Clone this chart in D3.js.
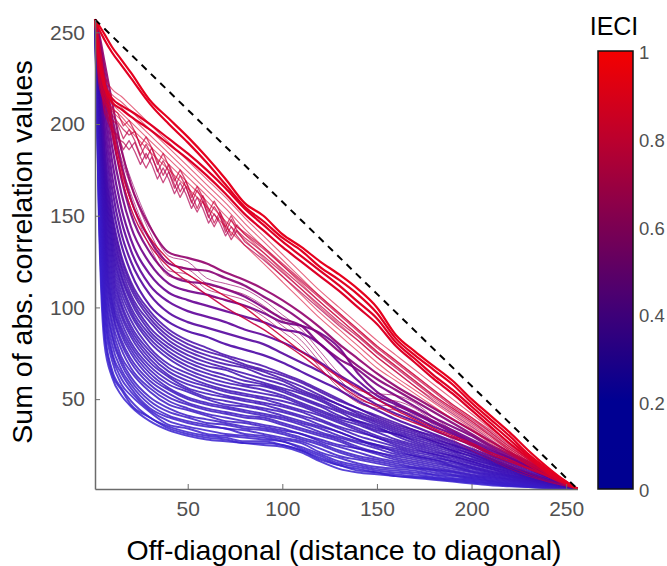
<!DOCTYPE html>
<html>
<head>
<meta charset="utf-8">
<script src="https://cdn.jsdelivr.net/npm/d3@7"></script>
<style>
  body { margin: 0; background: #fff; }
  svg { font-family: "Liberation Sans", Arial, sans-serif; }
</style>
</head>
<body>
<div id="chart"></div>
<script>
// off-diagonal positions (shared grid) and a finer grid for the jagged curves
const offDiag = [1,3,6,10,15,20,30,40,50,60,70,80,90,100,110,120,130,140,150,160,170,180,190,200,210,220,230,240,250,256];
const offDiagFine = [1,3,6,10,13,16,19,22,25,28,31,34,37,40,43,46,49,52,55,58,61,64,67,70,73,76,80,90,100,110,120,130,140,150,160,170,180,190,200,210,220,230,240,250,256];

// low IECI: the blue mass
const blueIeci = [0.05,0.06,0.07,0.08,0.09,0.1,0.11,0.12,0.13,0.14,0.15,0.16,0.17,0.18,0.19,0.2,0.21,0.22,0.23,0.24,0.25,0.26,0.27,0.28,0.29,0.3,0.31,0.32,0.33,0.34,0.35];
const blueSums = [
  [257,150,80,62,52,46,38,33,30,28,27,26,25,24,21,16,12,10,9,8,7,6,5,4,3,2.5,2,1.5,1.2,1],
  [257,156,86,64,55,47,40,34,31,29,28,26,26,25,22,17,14,11,10,8,7.5,6.5,5.5,4.5,3.6,2.8,2.2,1.6,1.2,1],
  [257,160,88,66,56,49,40,35,32,30,29,27,27,25,22,18,14,12,10,9,8,7,6,5,4,3,2.4,1.8,1.3,1],
  [257,166,94,71,58,52,43,36,34,31,30,29,28,27,23,19,15,13,11,10,9,7.5,6.5,5.5,4.3,3.3,2.5,1.9,1.3,1],
  [257,172,98,74,61,54,44,38,35,33,31,30,29,27,24,20,16,14,12,11,10,8.5,7,6,4.8,3.6,2.7,2,1.4,1],
  [257,178,103,76,64,56,45,40,37,35,34,31,30,28,26,21,18,15,13,12,11,9,8,6.5,5.2,3.9,2.9,2.1,1.4,1],
  [257,182,106,80,66,58,47,41,38,36,34,33,31,29,27,23,19,17,15,13,12,10,8.5,7,5.5,4.2,3,2.2,1.5,1],
  [257,186,110,84,69,60,49,43,40,37,36,34,33,31,28,25,21,18,16,14,12.5,11,9,7.5,6,4.6,3.3,2.4,1.5,1],
  [257,190,114,86,71,62,51,45,41,39,37,35,34,32,29,26,22,19,17,15,13,11.5,10,8,6.5,5,3.6,2.5,1.6,1],
  [257,194,119,90,73,65,54,47,44,41,38,37,35,33,31,27,24,21,18,16,14,12,10.5,8.5,7,5.4,3.9,2.7,1.7,1],
  [257,198,122,93,77,67,56,49,45,42,40,38,36,34,31,28,25,23,20,17,15,13,11,9,7.5,5.8,4.2,2.9,1.8,1],
  [257,201,126,97,80,70,58,51,47,44,42,40,39,36,33,30,27,23,21,18,16,14,12,10,8,6.2,4.5,3,1.8,1],
  [257,204,130,99,82,72,60,53,48,45,43,41,40,37,34,31,28,24,21,19,17,15,13,10.5,8.5,6.5,4.8,3.2,1.9,1],
  [257,206,133,102,85,75,62,55,50,47,45,43,41,39,36,32,29,26,23,20,18,16,13.5,11,9,7,5,3.4,2,1],
  [257,208,136,104,87,77,64,56,51,48,46,44,42,40,37,34,30,27,25,21,19,17,14,12,9.5,7.5,5.4,3.6,2,1],
  [257,210,139,107,89,79,66,58,54,50,47,46,44,41,38,35,32,28,24,22,19,17,15,12.5,10,7.8,5.7,3.8,2.1,1],
  [257,212,142,110,92,81,68,60,55,51,49,47,45,43,40,36,32,28,25,23,20,18,16,13,10.5,8.2,6,4,2.2,1],
  [257,214,145,113,95,84,70,62,56,53,51,49,47,44,41,38,34,30,27,24,21,19,16,13.5,11,8.6,6.3,4.2,2.2,1],
  [257,216,148,116,97,86,72,63,58,55,52,50,48,46,43,39,35,32,29,25,22,20,17,14.5,12,9,6.6,4.3,2.3,1],
  [257,218,152,119,100,88,74,65,60,57,54,52,50,47,44,41,37,33,29,26,23,20,18,15,12,9.5,7,4.5,2.3,1],
  [257,220,155,122,102,90,76,67,62,58,55,53,51,49,46,42,38,34,30,27,24,21,19,16,13,10,7.2,4.6,2.4,1],
  [257,222,158,125,105,93,78,69,64,60,57,55,53,51,47,43,39,36,32,28,25,22,19,16,13,10.5,7.5,4.8,2.5,1],
  [257,224,162,128,108,96,81,72,66,62,59,57,55,52,48,44,40,38,35,30,26,23,20,17,14,11,7.8,5,2.6,1],
  [257,226,165,131,111,98,83,74,68,64,61,58,57,54,50,46,41,37,33,31,27,24,21,17.5,14.5,11.5,8.2,5.2,2.6,1],
  [257,227,168,134,113,100,85,76,70,66,63,60,58,55,51,47,43,38,34,31,28,25,22,18.5,15,12,8.5,5.4,2.7,1],
  [257,229,171,137,116,103,87,78,72,68,66,62,59,56,53,49,44,40,36,32,29,26,22,19,15.5,12,8.8,5.6,2.8,1],
  [257,230,174,140,118,105,89,80,74,70,67,64,61,58,54,50,45,41,37,33,30,27,23,20,16,12.5,9,5.8,2.8,1],
  [257,232,177,143,121,107,92,82,76,72,69,67,63,60,55,51,47,42,38,34,31,27,24,20,16.5,12.8,9.2,5.9,2.9,1],
  [257,233,180,146,123,110,94,84,78,74,71,68,65,61,57,52,47,43,39,35,32,28,25,21,17,13,9.5,6,3,1],
  [257,235,183,149,126,112,96,86,80,76,73,69,66,63,59,54,49,45,40,36,33,29,25,21.5,17.5,13.5,9.8,6.1,3,1],
  [257,236,186,152,128,114,98,88,82,78,74,71,68,64,60,55,50,45,41,37,33,30,26,22,18,14,10,6.3,3.1,1]
];

// mid IECI: thick purple / magenta curves
const magIeci = [0.38,0.42,0.46,0.5,0.54,0.58,0.62,0.66];
const magSums = [
  [257,238,192,158,134,119,101,92,87,84,80,77,74,70,65,60,55,49,44,39,35,31,27,23,19,15,11,7,3.3,1],
  [257,240,198,165,140,125,107,97,92,89,86,83,80,75,70,65,59,53,47,42,38,33,29,25,20,16,12,7.5,3.5,1],
  [257,242,205,172,147,131,112,103,98,95,92,88,85,81,76,70,63,57,50,45,40,35,31,26,21,17,12.5,8,3.7,1],
  [257,244,212,180,154,137,118,108,104,101,98,95,92,88,86,80,70,60,52,47,42,37,32,27,22,18,13,8.5,4,1],
  [257,246,218,188,162,144,124,113,109,107,104,101,97,92,90,86,78,64,54,48,43,38,33,28,23,18,13.5,9,4.2,1],
  [257,247,224,196,170,151,130,118,114,113,110,106,100,94,90,80,72,66,58,52,46,40,35,30,24,19,14,9.5,4.4,1],
  [257,248,229,204,178,159,137,124,121,120,116,112,106,100,93,85,76,68,61,55,49,43,37,31,25,20,15,10,4.6,1],
  [257,250,234,212,186,167,144,130,127,124,119,115,110,104,97,89,80,72,64,57,51,45,39,33,27,21,16,10.5,4.8,1]
];

// thin curves with the hump near 50 and the plateau near 150
const thinIeci = [0.68,0.7,0.72,0.74];
const thinSums = [
  [257,245,225,205,185,170,145,128,125,116,113,110,104,96,88,76,64,55,53,52,48,40,33,26,20,15,10,6,3,1],
  [257,243,222,201,181,166,141,124,121,113,110,107,101,93,85,73,61,52,50,49,45,38,31,25,19,14,9,5.5,2.8,1],
  [257,241,219,197,177,162,137,120,118,110,107,104,98,90,82,70,58,50,47,46,43,36,30,24,18,13,9,5,2.6,1],
  [257,239,216,193,173,158,133,117,115,107,104,101,95,87,79,67,56,48,45,44,41,34,28,22,17,12,8,5,2.5,1]
];

// red curves that run down through the mass
const lowRedIeci = [0.83,0.86];
const lowRedSums = [
  [257,245,222,196,171,154,134,122,114,107,100,94,88,81,74,66,58,51,46,41,37,33,29,25,20,16,12,8,3.8,1],
  [257,246,225,200,175,158,138,126,118,112,106,100,92,84,76,69,62,56,50,44,39,34,30,26,21,17,12.5,8.5,4,1]
];

// saw-toothed curves (fine grid)
const jagIeci = [0.76,0.78,0.8,0.81,0.83];
const jagSums = [
  [257,228,206,196,194,186,191,185,178,184,178,170,176,170,162,168,162,154,160,154,146,151,146,139,144,139,134,126,117,108,99,90,82,73,65,57,49,42,35,28,21,14,8.5,3.7,1],
  [257,230,208,199,192,190,186,190,182,176,182,175,168,174,167,160,166,158,152,158,150,144,150,143,137,142,136,128,119,110,101,92,84,75,67,59,51,44,37,30,22,15,9,4,1],
  [257,233,211,202,200,192,197,191,183,189,183,174,180,174,165,172,166,157,164,158,149,155,150,141,148,142,138,130,121,112,103,94,85,76,68,60,52,45,38,31,23,16,9.5,4.2,1],
  [257,235,214,205,201,197,194,196,188,181,187,180,172,178,171,163,169,162,154,161,154,146,152,146,139,145,140,132,123,114,105,96,87,78,70,62,54,46,39,32,24,17,10,4.4,1],
  [257,237,217,208,206,199,202,196,188,193,187,178,184,177,169,175,169,160,166,160,152,158,152,144,150,144,141,133,124,115,106,97,88,79,71,63,55,47,40,33,25,17,10.5,4.6,1]
];

// pale red bundle
const pinkIeci = [0.9,0.9,0.91,0.91,0.92,0.92];
const pinkSums = [
  [257,240,226,219,215,210,200,190,180,170,160,149,139,129,119,109,100,91,82,74,66,58,50,42,34,26,18,11,4.5,1],
  [257,236,222,216,212,207,197,187,177,167,157,146,136,126,116,106,97,88,79,71,63,55,47,40,32,24,17,10,4,1],
  [257,232,219,214,209,204,194,184,174,164,154,143,133,123,113,103,94,85,76,68,60,52,45,38,30,23,16,9,4,1],
  [257,228,216,211,206,201,191,181,171,161,150,140,130,120,110,100,91,82,73,65,57,50,43,36,29,22,15,9,3.5,1],
  [257,225,214,209,204,198,188,178,168,158,147,137,127,117,107,97,88,79,70,62,55,48,41,34,27,21,14,8,3.5,1],
  [257,222,212,207,202,196,185,175,165,155,144,134,124,114,104,94,85,76,67,60,53,46,39,33,26,20,14,8,3,1]
];

// highest IECI, closest to the diagonal
const redIeci = [0.94,0.95,0.97,0.99];
const redSums = [
  [257,236,220,212,208,204,197,189,181,172,162,151,142,133,125,117,109,100,91,79,70,61,53,44,35,26,18,10,4,1],
  [257,238,222,214,210,207,200,192,184,175,165,154,145,136,128,120,112,103,94,81,72,63,55,46,37,28,19,11,4.5,1],
  [257,252,246,239,232,225,211,200,190,179,167,155,147,138,131,122,115,107,97,83,74,66,58,48,39,30,20,12,5,1],
  [257,254,249,242,235,228,213,203,193,182,170,157,150,140,133,125,118,110,100,85,76,68,60,50,41,32,22,13,5,1]
];

const xTicks = [50,100,150,200,250];
const yTicks = [50,100,150,200,250];
const cbTicks = [0,0.2,0.4,0.6,0.8,1];
const cbTickLabels = ["0","0.2","0.4","0.6","0.8","1"];

const W = 667, H = 566;
const svg = d3.select("#chart").append("svg")
    .attr("width", W).attr("height", H)
    .style("background", "#fff");

const x = d3.scaleLinear().domain([1, 256]).range([95, 577.5]);
const y = d3.scaleLinear().domain([1, 257]).range([489, 19.5]);

// colormap of the colorbar
const cmap = d3.scaleLinear()
    .domain([0, 0.2, 0.4, 0.6, 0.8, 1])
    .range(["#000091", "#000092", "#3e0078", "#7c0052", "#bc002d", "#f40000"]);
// lines render a little brighter (thin anti-aliased strokes)
const lineColor = d3.scaleLinear()
    .domain([0, 0.3, 0.5, 0.7, 0.85, 1])
    .range(["#3a26d6", "#3c0cb0", "#660094", "#9c0062", "#cc0038", "#e8001c"]);

const groupStyle = {
    blue: { w: 1.9, op: 0.85 },
    mag:  { w: 2.2, op: 0.9 },
    thin: { w: 1.0, op: 0.65 },
    lowred: { w: 1.4, op: 0.9 },
    jag:  { w: 1.3, op: 0.7 },
    pink: { w: 1.1, op: 0.6 },
    red:  { w: 2.2, op: 1 }
};

function build(group, xs, ieci, sums) {
    return sums.map((s, i) => ({ group, ieci: ieci[i], pts: xs.map((v, j) => [v, s[j]]) }));
}

const series = [].concat(
    build("blue", offDiag, blueIeci, blueSums),
    build("mag", offDiag, magIeci, magSums),
    build("thin", offDiag, thinIeci, thinSums),
    build("lowred", offDiag, lowRedIeci, lowRedSums),
    build("jag", offDiagFine, jagIeci, jagSums),
    build("pink", offDiag, pinkIeci, pinkSums),
    build("red", offDiag, redIeci, redSums)
);

const smooth = d3.line().x(d => x(d[0])).y(d => y(d[1])).curve(d3.curveMonotoneX);
const sharp = d3.line().x(d => x(d[0])).y(d => y(d[1])).curve(d3.curveLinear);

svg.append("g").selectAll("path")
    .data(series)
    .join("path")
    .attr("d", d => d.group === "jag" ? sharp(d.pts) : smooth(d.pts))
    .attr("fill", "none")
    .attr("stroke", d => lineColor(d.ieci))
    .attr("stroke-width", d => groupStyle[d.group].w)
    .attr("stroke-opacity", d => groupStyle[d.group].op)
    .attr("stroke-linejoin", "round");

// diagonal reference
svg.append("line")
    .attr("x1", x(1)).attr("y1", y(257))
    .attr("x2", x(256)).attr("y2", y(1))
    .attr("stroke", "#000").attr("stroke-width", 2)
    .attr("stroke-dasharray", "7,6");

// axes (MATLAB style, ticks inward, no box)
const axisColor = "#6b6b6b";
const xAxis = svg.append("g").attr("transform", `translate(0,${y(1)})`)
    .call(d3.axisBottom(x).tickValues(xTicks).tickSizeInner(-5).tickSizeOuter(0).tickPadding(12));
const yAxis = svg.append("g").attr("transform", `translate(${x(1)},0)`)
    .call(d3.axisLeft(y).tickValues(yTicks).tickSizeInner(-5).tickSizeOuter(0).tickPadding(10));
[xAxis, yAxis].forEach(g => {
    g.select(".domain").attr("stroke", axisColor).attr("stroke-width", 1.5);
    g.selectAll(".tick line").attr("stroke", axisColor);
    g.selectAll(".tick text").attr("fill", "#505050")
        .style("font-size", "21px").style("font-family", "'Liberation Sans', Arial, sans-serif");
});

svg.append("text")
    .attr("x", 344).attr("y", 560)
    .attr("text-anchor", "middle")
    .style("font-size", "28.5px")
    .text("Off-diagonal (distance to diagonal)");

svg.append("text")
    .attr("transform", "translate(32,252) rotate(-90)")
    .attr("text-anchor", "middle")
    .style("font-size", "28.5px")
    .text("Sum of abs. correlation values");

// colorbar
const cb = { x: 598, w: 35 };
const cy = d3.scaleLinear().domain([0, 1]).range([489, 51]);
const grad = svg.append("defs").append("linearGradient")
    .attr("id", "cbgrad").attr("x1", 0).attr("y1", 1).attr("x2", 0).attr("y2", 0);
d3.range(0, 1.0001, 0.05).forEach(t => {
    grad.append("stop").attr("offset", t).attr("stop-color", cmap(t));
});
svg.append("rect")
    .attr("x", cb.x).attr("y", cy(1))
    .attr("width", cb.w).attr("height", cy(0) - cy(1))
    .attr("fill", "url(#cbgrad)")
    .attr("stroke", "#111").attr("stroke-width", 1.5);

svg.append("g").selectAll("text")
    .data(cbTicks)
    .join("text")
    .attr("x", cb.x + cb.w + 6)
    .attr("y", d => cy(d) + 2)
    .attr("dy", "0.35em")
    .attr("fill", "#505050")
    .style("font-size", "18.5px")
    .text((d, i) => cbTickLabels[i]);

svg.append("text")
    .attr("x", 614).attr("y", 35)
    .attr("text-anchor", "middle")
    .style("font-size", "25px")
    .text("IECI");
</script>
</body>
</html>
